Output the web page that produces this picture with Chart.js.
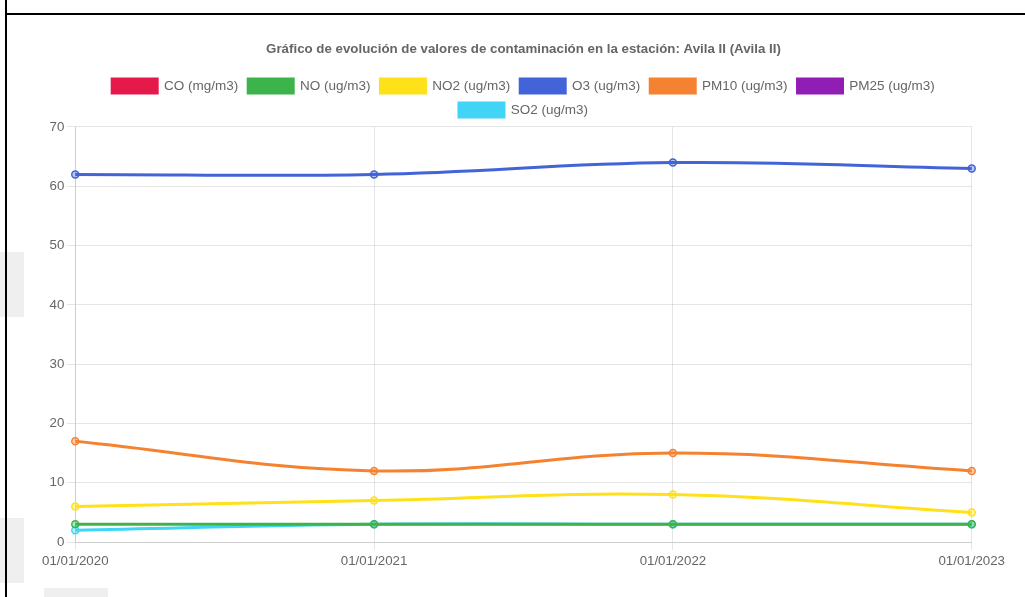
<!DOCTYPE html>
<html>
<head>
<meta charset="utf-8">
<script src="https://cdn.jsdelivr.net/npm/chart.js@4/dist/chart.umd.min.js"></script>
<style>
  html, body { margin: 0; padding: 0; background: #fff; }
  body { width: 1025px; height: 597px; position: relative; overflow: hidden; }
  .grey { position: absolute; background: #efefef; }
  .frame-left { position: absolute; left: 5px; top: 0; width: 2px; height: 597px; background: #000; }
  .frame-top { position: absolute; left: 5px; top: 13px; width: 1020px; height: 2px; background: #000; }
  .chart-container { position: absolute; left: 39px; top: 31px; width: 969px; height: 541px; }
</style>
</head>
<body>
<div class="grey" style="left:0;top:252px;width:24px;height:65px"></div>
<div class="grey" style="left:0;top:518px;width:24px;height:65px"></div>
<div class="grey" style="left:44px;top:588px;width:64px;height:9px"></div>
<div class="frame-left"></div>
<div class="frame-top"></div>
<div class="chart-container"><canvas id="grafico"></canvas></div>
<script>
const fechas = ["01/01/2020", "01/01/2021", "01/01/2022", "01/01/2023"];

const co = [null, null, null, null];
const no = [3, 3, 3, 3];
const no2 = [6, 7, 8, 5];
const o3 = [62, 62, 64, 63];
const pm10 = [17, 12, 15, 12];
const pm25 = [null, null, null, null];
const so2 = [2, 3, 3, 3];

const series = [
  { label: "CO (mg/m3)", data: co, color: "230, 25, 75" },
  { label: "NO (ug/m3)", data: no, color: "60, 180, 75" },
  { label: "NO2 (ug/m3)", data: no2, color: "255, 225, 25" },
  { label: "O3 (ug/m3)", data: o3, color: "67, 99, 216" },
  { label: "PM10 (ug/m3)", data: pm10, color: "245, 130, 49" },
  { label: "PM25 (ug/m3)", data: pm25, color: "145, 30, 180" },
  { label: "SO2 (ug/m3)", data: so2, color: "66, 212, 244" },
];

Chart.defaults.font.family = "'Liberation Sans', Arial, sans-serif";
Chart.defaults.font.size = 13.3;
Chart.defaults.color = "#666";

const ctx = document.getElementById("grafico").getContext("2d");

new Chart(ctx, {
  type: "line",
  data: {
    labels: fechas,
    datasets: series.map((s) => ({
      label: s.label,
      data: s.data,
      borderColor: `rgb(${s.color})`,
      backgroundColor: `rgb(${s.color})`,
      pointBackgroundColor: `rgba(${s.color}, 0.35)`,
      pointBorderColor: `rgb(${s.color})`,
      pointBorderWidth: 1.5,
      pointRadius: 3.5,
      borderWidth: 3,
      tension: 0.4,
      fill: false,
    })),
  },
  options: {
    responsive: true,
    maintainAspectRatio: false,
    animation: false,
    plugins: {
      title: {
        display: true,
        text: "Gráfico de evolución de valores de contaminación en la estación: Avila II (Avila II)",
        font: { size: 13.3, weight: "bold" },
        padding: { top: 10, bottom: 12 },
      },
      legend: {
        labels: { boxWidth: 45, boxHeight: 14, padding: 10, font: { size: 13.5 } },
      },
      tooltip: { enabled: false },
    },
    scales: {
      x: {
        grid: { color: "rgba(0,0,0,0.1)" },
        ticks: { maxRotation: 0 },
      },
      y: {
        min: 0,
        max: 70,
        ticks: { stepSize: 10 },
        grid: { color: "rgba(0,0,0,0.1)" },
      },
    },
  },
});
</script>
</body>
</html>
